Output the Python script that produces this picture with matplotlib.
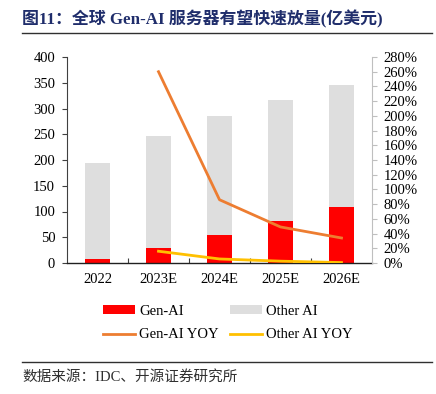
import matplotlib
matplotlib.use("Agg")
import matplotlib.pyplot as plt
from matplotlib.ticker import FuncFormatter, MultipleLocator
from matplotlib.lines import Line2D

categories = ["2022", "2023E", "2024E", "2025E", "2026E"]
gen_ai = [8, 29, 54, 81.5, 109]
other_ai = [186, 218, 231, 235.5, 237]
gen_ai_yoy = [None, 260, 86, 49, 34]
other_ai_yoy = [None, 16, 5.5, 2.5, 0.6]

serif = ['Liberation Serif', 'Noto Sans CJK SC']
plt.rcParams['font.family'] = serif

W, H = 436, 394
fig = plt.figure(figsize=(W / 100, H / 100), dpi=100)
ax = fig.add_axes([67 / W, 1 - 263 / H, (372 - 67) / W, (263 - 57) / H])

x = list(range(len(categories)))
bw = 0.41
ax.bar(x, gen_ai, bw, color='#FF0000', label='Gen-AI', zorder=2)
ax.bar(x, other_ai, bw, bottom=gen_ai, color='#DEDEDE', label='Other AI', zorder=2)
ax.set_ylim(0, 400)
ax.set_xlim(-0.5, 4.5)
ax.yaxis.set_major_locator(MultipleLocator(50))
ax.set_xticks(x)
ax.set_xticklabels(categories)
ax.set_xticks([0.5, 1.5, 2.5, 3.5], minor=True)
ax.tick_params(axis='x', which='major', length=0, pad=7, labelsize=10.5, colors='black')
ax.tick_params(axis='x', which='minor', direction='in', length=3.5, width=0.8, color='#404040')
ax.tick_params(axis='y', direction='out', length=3.5, width=0.8, labelsize=10.5, pad=5, color='#404040')
for s in ['top', 'right']:
    ax.spines[s].set_visible(False)
ax.spines['left'].set_color('#404040')
ax.spines['bottom'].set_color('#202020')
ax.spines['bottom'].set_linewidth(1.0)

ax2 = ax.twinx()
xs = x[1:]
ax2.plot(xs, gen_ai_yoy[1:], color='#ED7D31', lw=2.0, label='Gen-AI YOY', zorder=3)
ax2.plot(xs, other_ai_yoy[1:], color='#FFC000', lw=2.0, label='Other AI YOY', zorder=3)
ax2.set_ylim(0, 280)
ax2.yaxis.set_major_locator(MultipleLocator(20))
ax2.yaxis.set_major_formatter(FuncFormatter(lambda v, p: f"{int(round(v))}%"))
ax2.tick_params(axis='y', direction='out', length=3.5, width=0.8, labelsize=10.5, pad=5, color='#BFBFBF')
for s in ['top', 'left', 'bottom']:
    ax2.spines[s].set_visible(False)
ax2.spines['right'].set_color('#BFBFBF')
ax.set_xlim(-0.5, 4.5)

h1, l1 = ax.get_legend_handles_labels()
h2, l2 = ax2.get_legend_handles_labels()
handles = [h1[0], h1[1], h2[0], h2[1]]
labels = [l1[0], l1[1], l2[0], l2[1]]
order = [0, 2, 1, 3]
leg = fig.legend([handles[i] for i in order], [labels[i] for i in order],
                 ncol=2, loc='center', bbox_to_anchor=(228 / W, 1 - 323 / H),
                 frameon=False, fontsize=10.5, handlelength=2.2, handleheight=0.5,
                 handletextpad=0.25, columnspacing=0.8, labelspacing=0.75)

fig.text(22 / W, 1 - 19 / H, "图11：全球 Gen-AI 服务器有望快速放量(亿美元)",
         fontsize=12.2, fontweight='bold', color='#1F2D6B', va='center', ha='left',
         family=['Liberation Serif', 'Noto Sans CJK SC'])
fig.add_artist(Line2D([22 / W, 432 / W], [1 - 33 / H, 1 - 33 / H], color='#303030', lw=1.0))
fig.add_artist(Line2D([22 / W, 432 / W], [1 - 362 / H, 1 - 362 / H], color='#303030', lw=1.0))
fig.text(22 / W, 1 - 377 / H, "数据来源：IDC、开源证券研究所", fontsize=10.5, color='#303030',
         va='center', ha='left', family=['Liberation Serif', 'Noto Sans CJK SC'])

fig.savefig("out.png", dpi=100)
